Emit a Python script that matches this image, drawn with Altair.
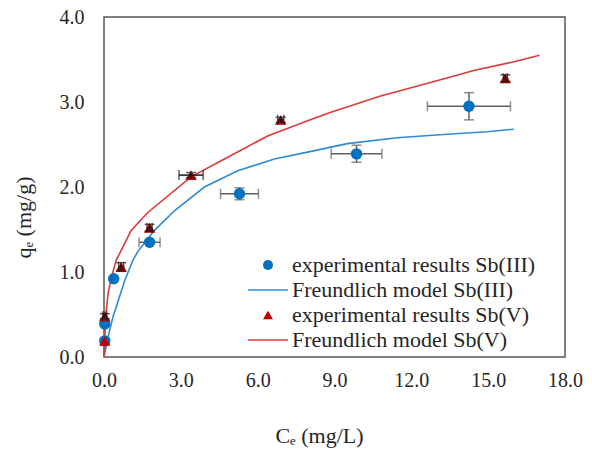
import altair as alt
import pandas as pd

S1 = "experimental results Sb(III)"
S2 = "Freundlich model Sb(III)"
S3 = "experimental results Sb(V)"
S4 = "Freundlich model Sb(V)"

# experimental points
b_C = [0.03, 0.03, 0.38, 1.78, 5.29, 9.86, 14.25]
b_q = [0.19, 0.39, 0.92, 1.35, 1.92, 2.39, 2.95]
r_C = [0.03, 0.03, 0.67, 1.78, 3.40, 6.90, 15.67]
r_q = [0.19, 0.48, 1.06, 1.52, 2.14, 2.79, 3.28]

# error bars
be_C = [1.78, 5.29, 9.86, 14.25]
be_q = [1.35, 1.92, 2.39, 2.95]
be_x = [0.41, 0.74, 0.99, 1.62]
be_y = [0.0, 0.07, 0.10, 0.16]
re_C = [0.03, 0.67, 1.78, 3.40, 6.90, 15.67]
re_q = [0.48, 1.06, 1.52, 2.14, 2.79, 3.28]
re_x = [0.08, 0.10, 0.10, 0.47, 0.12, 0.08]
re_y = [0.03, 0.05, 0.04, 0.03, 0.03, 0.04]

# model curves
bm_C = [0.0, 0.16, 0.35, 0.81, 1.13, 1.32, 1.97, 2.75, 3.92, 5.22, 6.65, 7.95, 9.5, 11.45, 13.4, 14.96, 16.0]
bm_q = [0.0, 0.24, 0.47, 0.90, 1.14, 1.24, 1.49, 1.72, 2.00, 2.19, 2.33, 2.41, 2.51, 2.58, 2.62, 2.65, 2.68]
rm_C = [0.0, 0.06, 0.16, 0.29, 0.48, 1.06, 1.71, 3.40, 4.83, 6.39, 7.95, 8.86, 10.8, 12.75, 14.44, 16.1, 17.0]
rm_q = [0.0, 0.47, 0.75, 0.94, 1.14, 1.49, 1.70, 2.12, 2.35, 2.60, 2.78, 2.88, 3.07, 3.23, 3.37, 3.48, 3.55]

x_ticks = [0, 3, 6, 9, 12, 15, 18]
y_ticks = [0, 1, 2, 3, 4]

series = [S1, S2, S3, S4]
colors = ["#0070C0", "#2E8BD6", "#C00000", "#DC3A36"]
LINE_SYM = "M-4,-0.16H4V0.16H-4Z"
shapes = ["circle", LINE_SYM, "triangle-up", LINE_SYM]

pts = pd.DataFrame({
    "C": b_C + r_C,
    "q": b_q + r_q,
    "s": [S1] * len(b_C) + [S3] * len(r_C),
})
lines = pd.DataFrame({
    "C": bm_C + rm_C,
    "q": bm_q + rm_q,
    "s": [S2] * len(bm_C) + [S4] * len(rm_C),
    "o": list(range(len(bm_C))) + list(range(len(rm_C))),
})

def err_df(C, q, ex, ey):
    return pd.DataFrame({
        "C": C, "q": q,
        "xl": [c - e for c, e in zip(C, ex)], "xh": [c + e for c, e in zip(C, ex)],
        "yl": [v - e for v, e in zip(q, ey)], "yh": [v + e for v, e in zip(q, ey)],
        "ey": ey,
    })

be = err_df(be_C, be_q, be_x, be_y)
re_ = err_df(re_C, re_q, re_x, re_y)

FONT = "Liberation Serif"
TXT = "#262626"

xs = alt.Scale(domain=[0, 18], nice=False, zero=False)
ys = alt.Scale(domain=[0, 4], nice=False, zero=False)
cs = alt.Scale(domain=series, range=colors)
ss = alt.Scale(domain=series, range=shapes)

xax = alt.Axis(values=x_ticks, format=".1f", title="Cₑ (mg/L)", grid=False, ticks=False,
               domain=False, labelFlush=False, labelPadding=13, titleX=215, titleY=78,
               titleBaseline="middle", titleAnchor="start", titleAlign="center")
yax = alt.Axis(values=y_ticks, format=".1f", title="qₑ (mg/g)", grid=False, ticks=False,
               domain=False, labelFlush=False, labelPadding=20, titleX=-81, titleY=200,
               titleAngle=-90, titleBaseline="middle", titleAlign="center")

legend = alt.Legend(
    title=None, orient="none", legendX=153, legendY=237,
    symbolSize=100, labelOffset=13, rowPadding=3, padding=0,
    symbolStrokeWidth=0, symbolOpacity=1,
    labelFont=FONT, labelFontSize=22, labelColor=TXT, labelLimit=400,
)

line_layer = alt.Chart(lines).mark_line(strokeWidth=1.6).encode(
    x=alt.X("C:Q", scale=xs, axis=xax),
    y=alt.Y("q:Q", scale=ys, axis=yax),
    color=alt.Color("s:N", scale=cs, legend=legend),
    order="o:Q",
    detail="s:N",
)

def err_layers(df, col):
    hx = alt.Chart(df).mark_rule(color=col, strokeWidth=1.5).encode(
        x="xl:Q", x2="xh:Q", y="q:Q")
    cap_x = alt.Chart(df).transform_fold(["xl", "xh"], as_=["k", "xv"]).mark_tick(
        color=col, orient="vertical", size=10, thickness=1.5).encode(
        x="xv:Q", y="q:Q")
    dfy = df[df["ey"] > 0]
    vy = alt.Chart(dfy).mark_rule(color=col, strokeWidth=1.5).encode(
        x="C:Q", y="yl:Q", y2="yh:Q")
    cap_y = alt.Chart(dfy).transform_fold(["yl", "yh"], as_=["k", "yv"]).mark_tick(
        color=col, orient="horizontal", size=10, thickness=1.5).encode(
        x="C:Q", y="yv:Q")
    return [hx, cap_x, vy, cap_y]

pt_layer = alt.Chart(pts).mark_point(filled=True, opacity=1, size=130).encode(
    x="C:Q", y="q:Q",
    color=alt.Color("s:N", scale=cs, legend=legend),
    shape=alt.Shape("s:N", scale=ss, legend=legend),
)

chart = alt.layer(
    line_layer, *err_layers(be, "#5F5F5F"), pt_layer, *err_layers(re_, "#1A1A1A")
).properties(
    width=461, height=340,
    autosize=alt.AutoSizeParams(type="none"),
    padding={"left": 96, "top": 9, "right": 19, "bottom": 92},
).configure_view(
    stroke="#555555", strokeWidth=1.5
).configure_axis(
    labelFont=FONT, labelFontSize=20, labelColor=TXT,
    titleFont=FONT, titleFontSize=22, titleColor=TXT, titleFontWeight="normal",
)

chart.save("out.html", embed_options={"renderer": "svg", "actions": False})
